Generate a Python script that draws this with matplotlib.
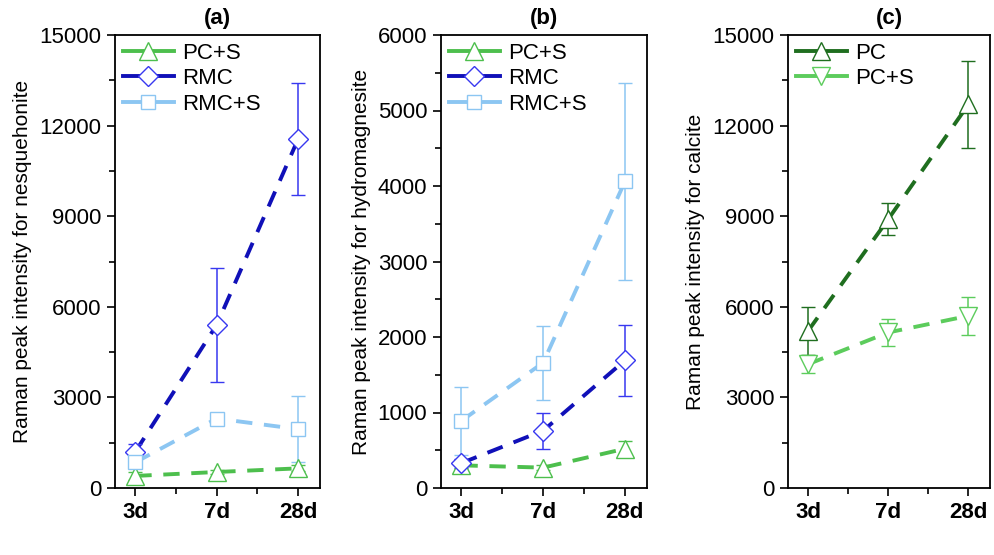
import matplotlib
matplotlib.use("Agg")
import matplotlib.pyplot as plt
from matplotlib.ticker import MultipleLocator, FixedLocator
from matplotlib.lines import Line2D
import numpy as np

days = ["3d", "7d", "28d"]

# Panel (a) nesquehonite
a_pcs = [400, 530, 650]
a_pcs_err = [120, 80, 100]
a_rmc = [1200, 5400, 11550]
a_rmc_err = [250, 1900, 1850]
a_rmcs = [850, 2300, 1950]
a_rmcs_err = [150, 200, 1100]

# Panel (b) hydromagnesite
b_pcs = [300, 270, 520]
b_pcs_err = [70, 30, 105]
b_rmc = [330, 760, 1690]
b_rmc_err = [60, 240, 465]
b_rmcs = [890, 1660, 4060]
b_rmcs_err = [450, 490, 1300]

# Panel (c) calcite
c_pc = [5200, 8900, 12700]
c_pc_err = [800, 530, 1450]
c_pcs = [4100, 5150, 5700]
c_pcs_err = [300, 450, 620]

GREEN = "#4dbf4d"
DBLUE = "#1010b8"
BLUE_M = "#3838f0"
LBLUE = "#8cc6f2"
DGREEN = "#1f6e1f"
LGREEN = "#5ccc5c"

plt.rcParams['font.family'] = ['Liberation Sans', 'DejaVu Sans']

fig = plt.figure(figsize=(9.94, 5.55), dpi=100)
H = 555.0
W = 994.0
bottom = 1 - 488 / H
height = 453 / H
axs = [
    fig.add_axes([115 / W, bottom, 205 / W, height]),
    fig.add_axes([441 / W, bottom, 206 / W, height]),
    fig.add_axes([788 / W, bottom, 202 / W, height]),
]

x = np.arange(len(days))


def series(ax, y, err, lc, mc, marker, label, ms=12):
    ax.errorbar(x, y, yerr=err, color=lc, ls="none",
                marker=marker, ms=ms, mfc="white", mec=mc, mew=1.0,
                ecolor=mc, elinewidth=1.1, capsize=5, capthick=1.1, zorder=3)
    ax.plot(x, y, color=lc, ls=(0, (4.2, 3.0)), lw=2.8, zorder=2)
    return Line2D([], [], color=lc, ls="-", lw=2.8, marker=marker, ms=ms,
                  mfc="white", mec=mc, mew=1.0, label=label)


handles = [[], [], []]
handles[0].append(series(axs[0], a_pcs, a_pcs_err, GREEN, GREEN, "^", "PC+S", ms=13))
handles[0].append(series(axs[0], a_rmc, a_rmc_err, DBLUE, BLUE_M, "D", "RMC", ms=10.5))
handles[0].append(series(axs[0], a_rmcs, a_rmcs_err, LBLUE, LBLUE, "s", "RMC+S", ms=10))

handles[1].append(series(axs[1], b_pcs, b_pcs_err, GREEN, GREEN, "^", "PC+S", ms=13))
handles[1].append(series(axs[1], b_rmc, b_rmc_err, DBLUE, BLUE_M, "D", "RMC", ms=10.5))
handles[1].append(series(axs[1], b_rmcs, b_rmcs_err, LBLUE, LBLUE, "s", "RMC+S", ms=10))

handles[2].append(series(axs[2], c_pc, c_pc_err, DGREEN, DGREEN, "^", "PC", ms=13))
handles[2].append(series(axs[2], c_pcs, c_pcs_err, LGREEN, LGREEN, "v", "PC+S", ms=13))

configs = [
    ("(a)", "Raman peak intensity for nesquehonite", 15000, 3000),
    ("(b)", "Raman peak intensity for hydromagnesite", 6000, 1000),
    ("(c)", "Raman peak intensity for calcite", 15000, 3000),
]

for ax, hs, (title, ylabel, ymax, step) in zip(axs, handles, configs):
    ax.set_xlim(-0.25, 2.27)
    ax.set_ylim(0, ymax)
    ax.set_xticks(x)
    ax.set_xticklabels(days, fontsize=16, fontweight="bold")
    ax.xaxis.set_minor_locator(FixedLocator([0.5, 1.5]))
    ax.yaxis.set_major_locator(MultipleLocator(step))
    ax.yaxis.set_minor_locator(MultipleLocator(step / 2))
    ax.tick_params(axis="y", labelsize=16)
    ax.tick_params(which="both", direction="out", top=False, right=False,
                   width=1.2)
    ax.tick_params(which="major", length=6, pad=4)
    ax.tick_params(which="minor", length=4)
    for s in ax.spines.values():
        s.set_linewidth(1.3)
    ax.set_ylabel(ylabel, fontsize=15, labelpad=5)
    ax.set_title(title, fontsize=16, fontweight="bold", pad=8)
    ax.legend(handles=hs, loc="upper left", frameon=False, fontsize=16,
              handlelength=2.3, handletextpad=0.35, borderaxespad=0.15,
              borderpad=0.2, labelspacing=0.2)

fig.savefig("out.png", dpi=100)
